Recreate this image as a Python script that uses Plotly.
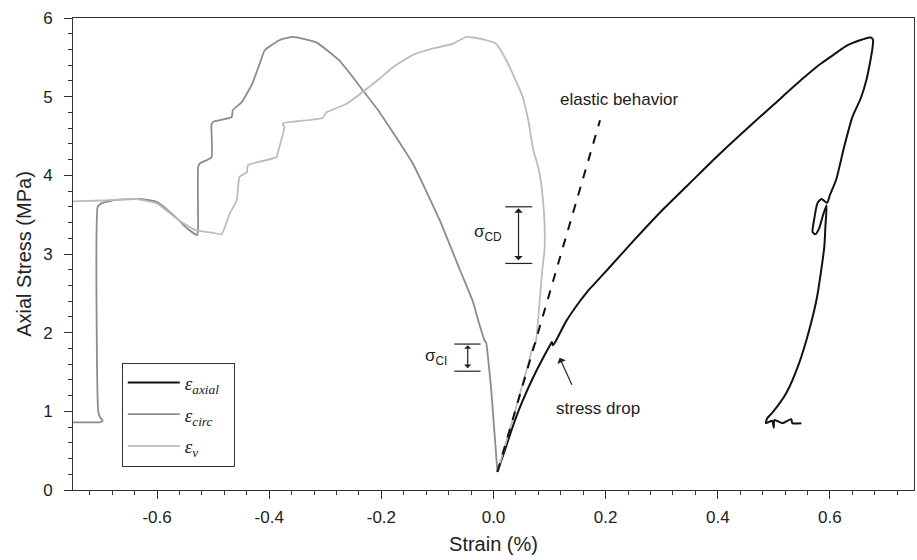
import plotly.graph_objects as go

# ---- data ----
axial_x = [0.007, 0.02, 0.034, 0.05, 0.07, 0.09, 0.100, 0.104, 0.106, 0.110, 0.13, 0.153, 0.165, 0.172, 0.18, 0.203,
           0.25, 0.30, 0.35, 0.40, 0.45, 0.50, 0.55, 0.58, 0.61, 0.63, 0.655, 0.668, 0.674, 0.677, 0.676, 0.672,
           0.665, 0.655, 0.64, 0.625, 0.611, 0.600, 0.595, 0.585, 0.578, 0.571, 0.569, 0.574, 0.581, 0.588, 0.594,
           0.592, 0.590, 0.577, 0.563, 0.545, 0.522, 0.497, 0.488, 0.486, 0.497, 0.500, 0.501, 0.515, 0.531,
           0.533, 0.549]
axial_y = [0.23, 0.50, 0.80, 1.10, 1.42, 1.70, 1.83, 1.88, 1.84, 1.88, 2.15, 2.39, 2.50, 2.56, 2.62, 2.80,
           3.17, 3.55, 3.90, 4.25, 4.58, 4.90, 5.22, 5.40, 5.55, 5.65, 5.72, 5.75, 5.75, 5.72, 5.62, 5.45,
           5.21, 4.98, 4.74, 4.35, 3.94, 3.75, 3.65, 3.70, 3.65, 3.40, 3.28, 3.25, 3.33, 3.50, 3.62,
           3.35, 3.09, 2.45, 2.03, 1.61, 1.23, 0.98, 0.91, 0.85, 0.88, 0.79, 0.89, 0.85, 0.90,
           0.85, 0.85]

circ_x = [0.007, 0.002, -0.004, -0.010, -0.013, -0.016, -0.025, -0.037, -0.060, -0.096, -0.144, -0.203, -0.233,
          -0.275, -0.316, -0.358, -0.381, -0.408, -0.417, -0.430, -0.449, -0.465, -0.467, -0.500, -0.503,
          -0.503, -0.524, -0.527, -0.527, -0.529, -0.547, -0.561, -0.600, -0.630, -0.680, -0.700, -0.706,
          -0.705, -0.702, -0.697, -0.703, -0.720, -0.750]
circ_y = [0.23, 0.70, 1.27, 1.70, 1.87, 1.90, 2.10, 2.40, 2.80, 3.43, 4.15, 4.80, 5.08,
          5.46, 5.69, 5.76, 5.72, 5.59, 5.42, 5.17, 4.93, 4.83, 4.74, 4.68, 4.64,
          4.23, 4.15, 4.10, 3.30, 3.24, 3.33, 3.43, 3.66, 3.70, 3.68, 3.64, 3.60,
          1.00, 0.93, 0.88, 0.86, 0.86, 0.86]

vol_x = [0.007, 0.020, 0.034, 0.050, 0.062, 0.070, 0.075, 0.080, 0.087, 0.091, 0.091, 0.088, 0.084, 0.078,
         0.071, 0.062, 0.052, 0.040, 0.023, 0.005, -0.020, -0.048, -0.073, -0.109, -0.144, -0.180, -0.203,
         -0.262, -0.298, -0.305, -0.376, -0.373, -0.385, -0.387, -0.438, -0.440, -0.453, -0.458, -0.470,
         -0.485, -0.500, -0.530, -0.561, -0.600, -0.640, -0.700, -0.750]
vol_y = [0.23, 0.55, 0.89, 1.30, 1.60, 1.82, 1.86, 2.20, 2.80, 3.05, 3.40, 3.70, 3.95, 4.15,
         4.32, 4.70, 5.00, 5.20, 5.46, 5.67, 5.73, 5.76, 5.67, 5.61, 5.53, 5.37, 5.23,
         4.91, 4.80, 4.73, 4.66, 4.61, 4.28, 4.23, 4.13, 4.04, 3.98, 3.68, 3.52,
         3.25, 3.27, 3.30, 3.43, 3.64, 3.70, 3.68, 3.67]

elastic_x = [0.007, 0.19]
elastic_y = [0.23, 4.70]

x_ticks = [-0.6, -0.4, -0.2, 0.0, 0.2, 0.4, 0.6]
x_tick_labels = ["-0.6", "-0.4", "-0.2", "0.0", "0.2", "0.4", "0.6"]
y_ticks = [0, 1, 2, 3, 4, 5, 6]

SANS = "Liberation Sans, Arial, sans-serif"
PAD = "&nbsp;&nbsp;"

fig = go.Figure()
fig.add_trace(go.Scatter(x=axial_x, y=axial_y, mode="lines", name="<i>ε<sub>axial</sub></i>" + PAD,
                         line=dict(color="#111111", width=2, shape="spline", smoothing=0.6), legendgroup="a"))
fig.add_trace(go.Scatter(x=circ_x, y=circ_y, mode="lines", name="<i>ε<sub>circ</sub></i>" + PAD,
                         line=dict(color="#8c8c8c", width=1.8, shape="spline", smoothing=0.4), legendgroup="b"))
fig.add_trace(go.Scatter(x=vol_x, y=vol_y, mode="lines", name="<i>ε<sub>v</sub></i>" + PAD,
                         line=dict(color="#bcbcbc", width=1.8, shape="spline", smoothing=0.4), legendgroup="c"))
fig.add_trace(go.Scatter(x=elastic_x, y=elastic_y, mode="lines", showlegend=False,
                         line=dict(color="#111111", width=2, dash="dash")))

txt = dict(family=SANS, size=17, color="#222222")
ann = []
ann.append(dict(x=0.223, y=4.96, text="elastic behavior", showarrow=False, font=txt))
ann.append(dict(x=0.108, y=1.03, text="stress drop", showarrow=False, font=txt, xanchor="left"))
ann.append(dict(x=0.118, y=1.68, ax=0.141, ay=1.32, axref="x", ayref="y", text="", showarrow=True,
                arrowhead=1, arrowsize=1.3, arrowwidth=1.2, arrowcolor="#222222"))
ann.append(dict(x=-0.009, y=3.27, text="σ<sub>CD</sub>", showarrow=False, font=txt))
ann.append(dict(x=0.0446, y=3.58, ax=0.0446, ay=2.90, axref="x", ayref="y", text="", showarrow=True,
                arrowhead=1, startarrowhead=1, arrowside="end+start", arrowsize=1.2, arrowwidth=1.2,
                arrowcolor="#222222"))
ann.append(dict(x=-0.102, y=1.69, text="σ<sub>CI</sub>", showarrow=False, font=txt))
ann.append(dict(x=-0.046, y=1.84, ax=-0.046, ay=1.53, axref="x", ayref="y", text="", showarrow=True,
                arrowhead=1, startarrowhead=1, arrowside="end+start", arrowsize=1.0, arrowwidth=1.2,
                arrowcolor="#222222"))

shapes = []
for (x0, x1, yy) in [(0.021, 0.069, 3.60), (0.021, 0.069, 2.88), (-0.070, -0.023, 1.855), (-0.070, -0.023, 1.51)]:
    shapes.append(dict(type="line", xref="x", yref="y", x0=x0, x1=x1, y0=yy, y1=yy,
                       line=dict(color="#222222", width=1.2)))

axis_font = dict(family=SANS, size=17, color="#222222")
title_font = dict(family=SANS, size=20, color="#222222")
fig.update_layout(
    width=917, height=560,
    margin=dict(l=73, r=3, t=18, b=70),
    paper_bgcolor="white", plot_bgcolor="white",
    annotations=ann, shapes=shapes,
    legend=dict(x=0.058, y=0.27, xanchor="left", yanchor="top", bordercolor="#333333", borderwidth=1,
                bgcolor="white", tracegroupgap=4, itemwidth=52,
                font=dict(family="Liberation Serif, Times New Roman, serif", size=19, color="#222222")),
    xaxis=dict(range=[-0.75, 0.75], tickvals=x_ticks, ticktext=x_tick_labels, ticks="outside", ticklen=8,
               tickcolor="#333333", showline=True, linecolor="#333333", linewidth=1, mirror=True,
               showgrid=False, zeroline=False, tickfont=axis_font, ticklabelstandoff=4,
               minor=dict(dtick=0.04, tick0=0, ticks="outside", ticklen=4, tickcolor="#333333"),
               title=dict(text="Strain (%)", font=title_font, standoff=10)),
    yaxis=dict(range=[0, 6], tickvals=y_ticks, ticks="outside", ticklen=8, tickcolor="#333333",
               showline=True, linecolor="#333333", linewidth=1, mirror=True, showgrid=False,
               zeroline=False, tickfont=axis_font, ticklabelstandoff=8,
               minor=dict(dtick=0.2, tick0=0, ticks="outside", ticklen=4, tickcolor="#333333"),
               title=dict(text="Axial Stress (MPa)", font=title_font, standoff=6)),
)
fig.write_html("out.html")
